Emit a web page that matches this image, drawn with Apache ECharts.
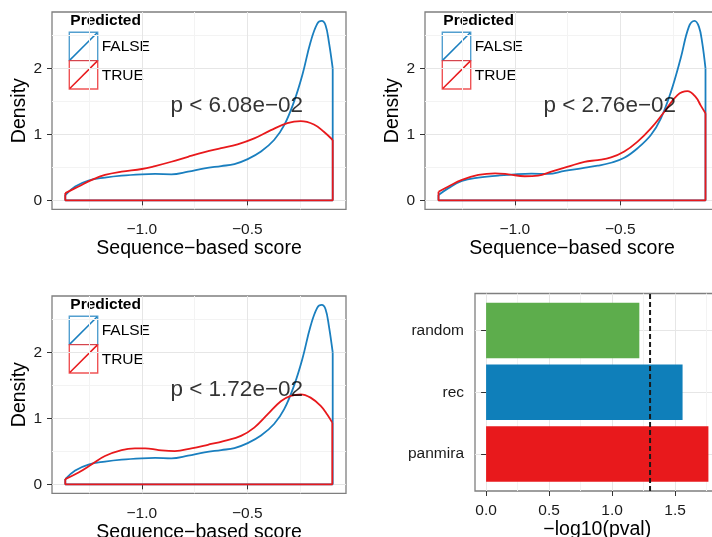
<!DOCTYPE html>
<html><head><meta charset="utf-8">
<script src="https://cdn.jsdelivr.net/npm/echarts@6/dist/echarts.min.js"></script>
<style>html,body{margin:0;padding:0;background:#fff}#c{width:712px;height:537px}</style>
</head><body><div id="c"></div>
<script>
// ---------------- data ----------------
const groupNames = ['FALSE', 'TRUE'];
const pLabels = ['p < 6.08e\u221202', 'p < 2.76e\u221202', 'p < 1.72e\u221202'];
const pLabelPos = [-0.55, 1.44];

const randomFalse = [[-1.363,0.08],[-1.316,0.21],[-1.253,0.30],[-1.175,0.345],[-1.096,0.375],[-1.0,0.395],[-0.937,0.40],[-0.86,0.395],[-0.781,0.435],[-0.703,0.485],[-0.624,0.52],[-0.561,0.55],[-0.498,0.625],[-0.435,0.74],[-0.373,0.915],[-0.325,1.14],[-0.278,1.50],[-0.239,1.90],[-0.2,2.40],[-0.168,2.68],[-0.147,2.72],[-0.129,2.655],[-0.113,2.40],[-0.095,2.0]];
const randomTrue = [[-1.363,0.11],[-1.30,0.21],[-1.237,0.31],[-1.175,0.385],[-1.096,0.435],[-1.0,0.475],[-0.937,0.52],[-0.86,0.585],[-0.781,0.66],[-0.703,0.73],[-0.624,0.79],[-0.546,0.85],[-0.467,0.94],[-0.388,1.065],[-0.31,1.17],[-0.247,1.20],[-0.184,1.15],[-0.137,1.04],[-0.095,0.915]];

const recFalse = [[-1.362,0.08],[-1.315,0.185],[-1.251,0.295],[-1.173,0.345],[-1.079,0.375],[-1.0,0.395],[-0.921,0.405],[-0.843,0.40],[-0.764,0.445],[-0.685,0.485],[-0.607,0.525],[-0.544,0.57],[-0.481,0.645],[-0.418,0.79],[-0.355,0.99],[-0.308,1.24],[-0.26,1.645],[-0.214,2.15],[-0.175,2.63],[-0.148,2.72],[-0.127,2.63],[-0.112,2.40],[-0.096,2.0]];
const recTrue = [[-1.362,0.13],[-1.315,0.21],[-1.251,0.31],[-1.173,0.385],[-1.094,0.41],[-1.031,0.395],[-0.953,0.365],[-0.89,0.375],[-0.827,0.435],[-0.748,0.51],[-0.67,0.585],[-0.607,0.61],[-0.544,0.65],[-0.481,0.74],[-0.418,0.89],[-0.355,1.09],[-0.292,1.34],[-0.229,1.595],[-0.182,1.655],[-0.143,1.57],[-0.119,1.44],[-0.096,1.32]];

const panmiraFalse = [[-1.363,0.08],[-1.316,0.21],[-1.253,0.30],[-1.175,0.345],[-1.096,0.375],[-1.0,0.395],[-0.937,0.40],[-0.86,0.395],[-0.781,0.435],[-0.703,0.485],[-0.624,0.52],[-0.561,0.55],[-0.498,0.625],[-0.435,0.74],[-0.373,0.915],[-0.325,1.14],[-0.278,1.50],[-0.239,1.90],[-0.2,2.40],[-0.168,2.68],[-0.147,2.72],[-0.129,2.655],[-0.113,2.40],[-0.095,2.0]];
const panmiraTrue = [[-1.363,0.08],[-1.30,0.18],[-1.237,0.305],[-1.175,0.43],[-1.096,0.52],[-1.033,0.545],[-0.984,0.545],[-0.92,0.52],[-0.844,0.505],[-0.765,0.545],[-0.687,0.6],[-0.608,0.66],[-0.53,0.735],[-0.467,0.86],[-0.404,1.06],[-0.341,1.26],[-0.294,1.34],[-0.247,1.365],[-0.2,1.315],[-0.152,1.19],[-0.121,1.06],[-0.097,0.935]];

const barCategories = ['panmira', 'rec', 'random'];
const barValues = [1.764, 1.559, 1.216];
const threshold = 1.301;

const densityXTicks = [-1.0, -0.5];
const densityXMinor = [-1.25, -0.75, -0.25];
const densityYTicks = [0, 1, 2];
const densityYMinor = [0.5, 1.5, 2.5];
const barXTicks = [0, 0.5, 1.0, 1.5];
const barXMinor = [0.25, 0.75, 1.25, 1.75];
const barYTicks = [1, 2, 3];

// ---------------- styles / layout ----------------
const FONT = 'Liberation Sans, Arial, Helvetica, sans-serif';
const groupColors = ['#1a7fbf', '#e8191c'];
const groupBoxColors = ['rgba(26,127,191,0.75)', 'rgba(232,25,28,0.75)'];
const barColors = ['#e8191c', '#0f7fba', '#5dad4c'];
const densityRange = {xmin: -1.426, xmax: -0.032, ymin: -0.136, ymax: 2.856};
const barRange = {xmin: -0.088, xmax: 1.852, ymin: 0.4, ymax: 3.6};
const panels = [
  {left: 52, top: 12, width: 294, height: 197.3},
  {left: 425, top: 12, width: 294, height: 197.3},
  {left: 52, top: 296, width: 294, height: 197.3},
  {left: 475, top: 293.5, width: 244.5, height: 197.5}
];
const densityData = [[randomFalse, randomTrue], [recFalse, recTrue], [panmiraFalse, panmiraTrue]];

const minus = s => String(s).replace('-', '\u2212');
const tickLabel = {color: '#1a1a1a', fontSize: 15.5, fontFamily: FONT};
const nameStyle = {color: '#000', fontSize: 19.5, fontFamily: FONT};

const grid = panels.map(p => ({left: p.left, top: p.top, width: p.width, height: p.height,
  show: true, borderColor: '#7f7f7f', borderWidth: 1.3, backgroundColor: '#fff',
  containLabel: false, outerBoundsMode: 'none'}));

const xAxis = [], yAxis = [], series = [], graphic = [];

function mainAxis(gi, range, ticks, fmt, margin, extra) {
  return Object.assign({
    type: 'value', gridIndex: gi, min: range[0], max: range[1],
    axisLine: {show: false},
    axisTick: {show: true, inside: false, length: 5, customValues: ticks, lineStyle: {color: '#333', width: 1}},
    axisLabel: Object.assign({customValues: ticks, formatter: fmt, margin: margin}, tickLabel),
    splitLine: {show: true, lineStyle: {color: '#e6e6e6', width: 1}},
    minorTick: {show: false}, minorSplitLine: {show: false}
  }, extra || {});
}
function minorAxis(gi, range, ticks, showLines) {
  return {
    type: 'value', gridIndex: gi, min: range[0], max: range[1],
    axisLine: {show: false}, axisLabel: {show: false},
    axisTick: {show: false, customValues: ticks},
    splitLine: {show: showLines, lineStyle: {color: '#f3f3f3', width: 1}}
  };
}

for (let i = 0; i < 3; i++) {
  xAxis.push(mainAxis(i, [densityRange.xmin, densityRange.xmax], densityXTicks, v => minus(v.toFixed(1)), 12,
    {name: 'Sequence\u2212based score', nameLocation: 'middle', nameGap: 26, nameTextStyle: nameStyle}));
  xAxis.push(minorAxis(i, [densityRange.xmin, densityRange.xmax], densityXMinor, true));
  yAxis.push(mainAxis(i, [densityRange.ymin, densityRange.ymax], densityYTicks, v => String(Math.round(v)), 10,
    {name: 'Density', nameLocation: 'middle', nameGap: 22, nameTextStyle: nameStyle}));
  yAxis.push(minorAxis(i, [densityRange.ymin, densityRange.ymax], densityYMinor, true));

  const ai = 2 * i;
  densityData[i].forEach((curve, g) => {
    const first = curve[0], last = curve[curve.length - 1];
    series.push({type: 'line', xAxisIndex: ai, yAxisIndex: ai, data: curve, smooth: 0.4,
      symbol: 'none', silent: true, lineStyle: {color: groupColors[g], width: 1.8}, z: 2 + g});
    series.push({type: 'line', xAxisIndex: ai, yAxisIndex: ai,
      data: [[last[0], last[1]], [last[0], 0], [first[0], 0], [first[0], first[1]]],
      symbol: 'none', silent: true, lineStyle: {color: groupColors[g], width: 1.8}, z: 2 + g});
  });
  series.push({type: 'scatter', xAxisIndex: ai, yAxisIndex: ai, data: [pLabelPos], symbolSize: 0, silent: true, z: 5,
    label: {show: true, position: 'inside', formatter: pLabels[i], color: '#000', fontSize: 22.5, fontFamily: FONT}});

  // legend (ggplot-style keys)
  const p = panels[i];
  const lx = p.left + 17.3, ly = p.top + 20.2, box = 28.4;
  const children = [
    {type: 'text', x: 1, y: -11.5, style: {text: 'Predicted', font: 'bold 15.5px ' + FONT, fill: '#000', verticalAlign: 'middle'}}
  ];
  groupNames.forEach((name, g) => {
    const by = g * box;
    children.push({type: 'rect', shape: {x: 0, y: by, width: box, height: box}, style: {fill: '#fff', stroke: groupBoxColors[g], lineWidth: 1.4}});
    children.push({type: 'line', shape: {x1: 0.5, y1: by + box - 0.5, x2: box - 0.5, y2: by + 0.5}, style: {stroke: groupColors[g], lineWidth: 1.5}});
    children.push({type: 'text', x: box + 4, y: by + box / 2 + 0.5, style: {text: name, font: '15.5px ' + FONT, fill: '#000', verticalAlign: 'middle'}});
  });
  graphic.push({type: 'group', x: lx, y: ly, z: 10, children: children});
}

// bar panel
xAxis.push(mainAxis(3, [barRange.xmin, barRange.xmax], barXTicks, v => v.toFixed(1), 12,
  {name: '\u2212log10(pval)', nameLocation: 'middle', nameGap: 26, nameTextStyle: nameStyle}));
xAxis.push(minorAxis(3, [barRange.xmin, barRange.xmax], barXMinor, true));
yAxis.push(mainAxis(3, [barRange.ymin, barRange.ymax], barYTicks, v => barCategories[Math.round(v) - 1], 11));
yAxis.push(minorAxis(3, [barRange.ymin, barRange.ymax], [], false));

series.push({
  type: 'custom', xAxisIndex: 6, yAxisIndex: 6, silent: true, z: 2,
  data: barValues.map((v, k) => [v, k + 1]),
  encode: {x: 0, y: 1},
  renderItem: (params, api) => {
    const v = api.value(0), c = api.value(1);
    const s = api.coord([0, c]), e = api.coord([v, c]);
    const h = api.size([0, 0.9])[1];
    return {type: 'rect', shape: {x: s[0], y: s[1] - h / 2, width: e[0] - s[0], height: h},
      style: {fill: barColors[params.dataIndex]}};
  }
});
series.push({type: 'line', xAxisIndex: 6, yAxisIndex: 6, data: [[threshold, barRange.ymin], [threshold, barRange.ymax]],
  symbol: 'none', silent: true, z: 4, lineStyle: {color: '#1a1a1a', width: 2, type: [5, 3]}});

const chart = echarts.init(document.getElementById('c'), null, {renderer: 'canvas'});
chart.setOption({animation: false, backgroundColor: '#fff', grid, xAxis, yAxis, series, graphic});
</script></body></html>
